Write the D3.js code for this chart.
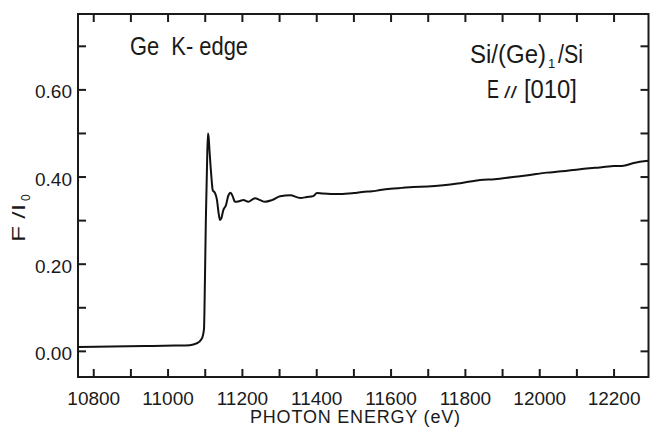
<!DOCTYPE html>
<html>
<head>
<meta charset="utf-8">
<script src="https://cdn.jsdelivr.net/npm/d3@7"></script>
<style>
    html, body { margin: 0; padding: 0; background: #fff; }
    svg { display: block; }
    .tick-label { font-family: "Liberation Sans", Arial, sans-serif; font-size: 19px; fill: #1a1a1a; }
    .note { font-family: "Liberation Sans", Arial, sans-serif; fill: #1a1a1a; white-space: pre; }
</style>
</head>
<body>
<svg id="chart" width="651" height="427"></svg>
<script>
// photon energy (eV)
const energy = [
    10759, 10850, 10950, 11020, 11060, 11078, 11092, 11098, 11100.5, 11103,
    11106, 11108.5, 11110.5, 11112.8, 11115.5, 11118.2, 11121.5, 11127.7, 11133, 11137,
    11141, 11145, 11150, 11157, 11163, 11169.5, 11175, 11181.5, 11195, 11204,
    11217, 11235, 11249, 11262, 11281, 11303, 11330, 11357, 11375, 11392,
    11402, 11416, 11440, 11464, 11500, 11530, 11550, 11572, 11600, 11630,
    11661, 11700, 11742, 11780, 11810, 11841, 11880, 11930, 11970, 12020,
    12060, 12110, 12150, 12200, 12227, 12254, 12294
];
// F / I0
const fluor = [
    0.009, 0.010, 0.011, 0.012, 0.013, 0.017, 0.028, 0.050, 0.160, 0.300,
    0.420, 0.499, 0.490, 0.460, 0.426, 0.396, 0.369, 0.362, 0.346, 0.318,
    0.300, 0.305, 0.323, 0.334, 0.355, 0.363, 0.355, 0.342, 0.344, 0.346,
    0.342, 0.350, 0.346, 0.342, 0.346, 0.355, 0.357, 0.351, 0.353, 0.355,
    0.362, 0.361, 0.360, 0.360, 0.362, 0.365, 0.366, 0.369, 0.372, 0.374,
    0.376, 0.377, 0.380, 0.384, 0.388, 0.392, 0.394, 0.399, 0.403, 0.409,
    0.412, 0.417, 0.420, 0.424, 0.425, 0.431, 0.436
];

const xTicks = d3.range(10800, 12201, 100);
const xLabels = [10800, 11000, 11200, 11400, 11600, 11800, 12000, 12200];
const yTicks = [0.0, 0.1, 0.2, 0.3, 0.4, 0.5, 0.6, 0.7];
const yLabels = [0.0, 0.2, 0.4, 0.6];

const plotLeft = 78, plotRight = 648.5, plotTop = 14, plotBottom = 377;
const tickLen = 8;

const svg = d3.select('#chart');

const x = d3.scaleLinear().domain([10759, 12294]).range([plotLeft, plotRight]);
const y = d3.scaleLinear().domain([-0.06, 0.773]).range([plotBottom, plotTop]);

// frame
svg.append('rect')
    .attr('x', plotLeft).attr('y', plotTop)
    .attr('width', plotRight - plotLeft).attr('height', plotBottom - plotTop)
    .attr('fill', 'none').attr('stroke', '#1a1a1a').attr('stroke-width', 2);

// inward ticks on all four sides
function addAxis(axis, transform, labels, fmt) {
    const g = svg.append('g')
        .attr('transform', transform)
        .call(axis.tickSizeInner(-tickLen).tickSizeOuter(0).tickPadding(8)
            .tickFormat(d => labels && labels.some(v => Math.abs(v - d) < 1e-6) ? fmt(d) : ''));
    g.select('.domain').remove();
    g.selectAll('.tick line').attr('stroke', '#1a1a1a').attr('stroke-width', 2);
    g.selectAll('.tick text').attr('class', 'tick-label').attr('font-size', null).attr('font-family', null);
    return g;
}

const xb = addAxis(d3.axisBottom(x).tickValues(xTicks), `translate(0,${plotBottom})`, xLabels, d3.format('d'));
xb.selectAll('.tick text').attr('dy', '1.05em');
addAxis(d3.axisTop(x).tickValues(xTicks), `translate(0,${plotTop})`, null, String);
const yl = addAxis(d3.axisLeft(y).tickValues(yTicks), `translate(${plotLeft},0)`, yLabels, d3.format('.2f'));
yl.selectAll('.tick text').attr('x', -6).attr('dy', '0.45em');
addAxis(d3.axisRight(y).tickValues(yTicks), `translate(${plotRight},0)`, null, String);

// trace
const pts = energy.map((e, i) => [e, fluor[i]]);
svg.append('path')
    .datum(pts)
    .attr('fill', 'none')
    .attr('stroke', '#111')
    .attr('stroke-width', 2)
    .attr('stroke-linejoin', 'round')
    .attr('d', d3.line().x(d => x(d[0])).y(d => y(d[1])).curve(d3.curveMonotoneX));

// narrow lettering: each piece squeezed to the width it has in the figure
function note(parent, str, px, py, size, len) {
    const t = parent.append('text').attr('class', 'note')
        .attr('x', px).attr('y', py)
        .attr('font-size', size)
        .text(str);
    if (len) t.attr('textLength', len).attr('lengthAdjust', 'spacingAndGlyphs');
    return t;
}

note(svg, 'Ge  K- edge', 130, 55, 26, 118);

note(svg, 'Si/(Ge)', 470, 63, 25, 76);
note(svg, '1', 548, 68, 13);
note(svg, '/Si', 558, 63, 25, 25);

note(svg, 'E', 487, 98, 25, 12);
note(svg, '//', 504, 98, 16, 13);
note(svg, '[010]', 524, 98, 25, 53);

// axis titles
svg.append('text').attr('class', 'note')
    .attr('x', 250).attr('y', 423)
    .attr('font-size', 18)
    .attr('textLength', 210).attr('lengthAdjust', 'spacing')
    .text('PHOTON ENERGY (eV)');

const yt = svg.append('g').attr('transform', 'translate(25,242) rotate(-90)');
note(yt, 'F /I', 0, 0, 19, 38);
note(yt, '0', 41, 5, 12);
</script>
</body>
</html>
